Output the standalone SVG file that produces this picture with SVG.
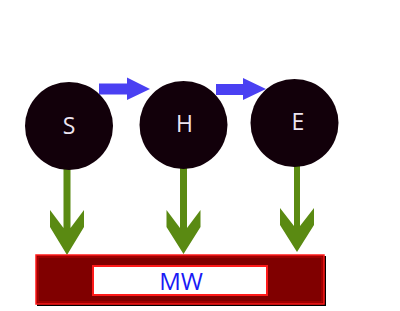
<svg xmlns="http://www.w3.org/2000/svg" width="400" height="311" viewBox="0 0 400 311">
<style>
.node{fill:#12000a;}
.lbl{font-family:"Open Sans","Noto Sans",sans-serif;font-size:23px;fill:#ece4f0;text-anchor:middle;}
.blue{fill:#4a40f2;}
.green{fill:#5a8a12;}
.mw{font-family:"Open Sans","Noto Sans",sans-serif;font-size:24px;fill:#1a1af5;text-anchor:middle;}
</style>
<rect width="400" height="311" fill="#ffffff"/>
<g id="connectors">
<path class="blue" d="M99,83.5 H127 V77.5 L150,89 L127,100 V94.5 H99 Z"/>
<path class="blue" d="M216,84 H243 V78 L266,89 L243,100 V95 H216 Z"/>
<path class="green" d="M63.5,165 V228 L50,210 V227 L67,255 L84,227 V210 L70.5,228 V165 Z"/>
<path class="green" d="M180,165 V228 L166.5,210 V227 L183.5,254 L200.5,227 V210 L187,228 V165 Z"/>
<path class="green" d="M294,162 V226 L280,208 V225 L297,252 L314,225 V208 L300,226 V162 Z"/>
</g>
<g id="node-S">
<circle class="node" cx="69" cy="126" r="44"/>
<text class="lbl" x="69" y="134">S</text>
</g>
<g id="node-H">
<circle class="node" cx="183.5" cy="125" r="44"/>
<text class="lbl" x="184.5" y="132">H</text>
</g>
<g id="node-E">
<circle class="node" cx="294.5" cy="123" r="44"/>
<text class="lbl" x="298" y="130">E</text>
</g>
<g id="node-MW">
<rect x="37" y="256" width="289" height="50" fill="#000000"/>
<rect x="36" y="255" width="288" height="49" fill="#800000" stroke="#ff1a1a" stroke-width="1.5"/>
<rect x="38" y="257" width="284" height="45" fill="none" stroke="#c00000" stroke-width="1"/>
<rect x="94" y="267" width="174" height="29" fill="#707070"/>
<rect x="93" y="266" width="174" height="29" fill="#ffffff" stroke="#ff1a1a" stroke-width="2"/>
<text class="mw" x="181" y="290">MW</text>
</g>
</svg>
